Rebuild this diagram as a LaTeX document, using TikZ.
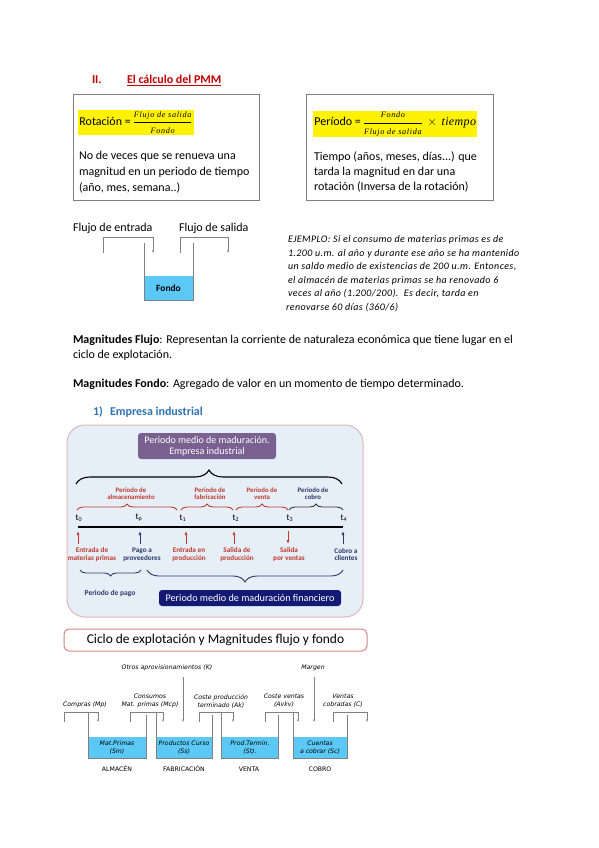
\documentclass[tikz,border=0pt]{standalone}
\usepackage{fontspec}
\setmainfont{Carlito}
\newfontfamily\serifitfam[LetterSpace=8.0]{Liberation Serif}
\newfontfamily\serifbig[LetterSpace=3.0]{Liberation Serif}
\newfontfamily\exfont[LetterSpace=4.0]{Carlito}
\newfontfamily\comicfont{DejaVu Sans}
\usetikzlibrary{decorations.pathreplacing,arrows.meta}
\definecolor{hred}{HTML}{C00000}
\definecolor{hblue}{HTML}{2E74B5}
\definecolor{boxgray}{HTML}{7F7F7F}
\definecolor{linegray}{HTML}{808080}
\definecolor{tankblue}{HTML}{5BC8F5}
\definecolor{panel}{HTML}{E6EEF8}
\definecolor{panelb}{HTML}{E2B6B6}
\definecolor{purp}{HTML}{7B6191}
\definecolor{navy}{HTML}{141A73}
\definecolor{dblue}{HTML}{2B3A67}
\definecolor{rred}{HTML}{C0392B}
\definecolor{titleb}{HTML}{D98585}
\newcommand{\fracfnt}{\fontsize{8.2}{8.5}\selectfont\serifitfam\itshape}
\begin{document}
\begin{tikzpicture}[x=1pt,y=-1pt,
  lbl/.style={inner sep=0pt, outer sep=0pt},
  txt/.style={lbl, font=\fontsize{12}{14}\selectfont},
  box/.style={draw=boxgray, line width=0.8pt, inner sep=0pt, outer sep=0pt},
  hl/.style={fill=yellow, inner sep=1.2pt, font=\fontsize{12}{14}\selectfont},
  body/.style={lbl, align=left},
  flow/.style={draw=linegray, line width=0.6pt},
  flowarr/.style={flow, -{Latex[length=2.5pt,width=2.2pt]}},
  tank/.style={draw=linegray, line width=0.6pt},
  redl/.style={lbl, align=center, text=rred, font=\fontsize{6.8}{7.2}\selectfont\bfseries},
  bluel/.style={lbl, align=center, text=dblue, font=\fontsize{6.8}{7.2}\selectfont\bfseries},
  redb/.style={lbl, align=center, text=rred, font=\fontsize{7.2}{7.6}\selectfont\bfseries},
  blueb/.style={lbl, align=center, text=dblue, font=\fontsize{7.2}{7.6}\selectfont\bfseries},
  tl/.style={lbl, font=\fontsize{9}{10}\selectfont},
  rarr/.style={rred, line width=0.8pt, -{Latex[length=4pt,width=3pt]}},
  barr/.style={dblue, line width=0.8pt, -{Latex[length=4pt,width=3pt]}},
  cic/.style={lbl, align=center, font=\fontsize{6.2}{8}\selectfont\comicfont\itshape},
  cicu/.style={lbl, align=center, font=\fontsize{6.2}{8}\selectfont\comicfont},
]
\fill[white] (0,0) rectangle (599,848);
\useasboundingbox (0,0) rectangle (599,848);

% Header
\node[txt, anchor=base west, font=\fontsize{12}{14}\selectfont\bfseries, text=hred] (secnum) at (92,84) {II.};
\node[txt, anchor=base west, font=\fontsize{12}{14}\selectfont\bfseries, text=hred] (sectitle) at (127,84) {\underline{El cálculo del PMM}};

% Box 1
\node[box, anchor=north west, minimum width=186pt, minimum height=106pt] (box1) at (73,94) {};
\node[hl, anchor=west] (rot) at (78,122.5) {Rotación =\,$\displaystyle\frac{\hbox{\fracfnt Flujo de salida}}{\hbox{\fracfnt Fondo}}$};
\node[body, anchor=north west, font=\fontsize{12}{16}\selectfont] (rottxt) at (79,151) {No de veces que se renueva una\\magnitud en un periodo de tiempo\\(año, mes, semana..)};

% Box 2
\node[box, anchor=north west, minimum width=187pt, minimum height=106pt] (box2) at (306,94) {};
\node[hl, anchor=west] (per) at (313,124) {Período =\,$\displaystyle\frac{\hbox{\fracfnt Fondo}}{\hbox{\fracfnt Flujo de salida}}$\, \raisebox{0.5pt}{$\times$}\, {\serifbig\itshape\fontsize{12}{14}\selectfont tiempo}};
\node[body, anchor=north west, font=\fontsize{12}{15}\selectfont] (pertxt) at (314,152) {Tiempo (años, meses, días...) que\\tarda la magnitud en dar una\\rotación (Inversa de la rotación)};

% Fondo diagram
\node[txt, anchor=base west] (fin) at (73,231) {Flujo de entrada};
\node[txt, anchor=base west] (fout) at (179,231) {Flujo de salida};
\coordinate (fa1) at (103,253);
\coordinate (fa2) at (153,253);
\coordinate (fb1) at (180,253);
\coordinate (fb2) at (228,253);
\draw[flowarr] (fa1) -- (103,237) -- (153,237) -- (fa2);
\draw[flowarr] (fb1) -- (180,237) -- (228,237) -- (fb2);
\fill[tankblue] (144,276) rectangle (193,300);
\draw[tank] (144,243) -- (144,300) -- (193,300) -- (193,243);
\node[lbl, font=\fontsize{9.5}{10}\selectfont\bfseries] (fondo) at (168.5,288) {Fondo};

% Example
\node[body, anchor=north west, font=\fontsize{10}{13.5}\selectfont\exfont\itshape] (ej) at (288,236) {EJEMPLO: Si el consumo de materias primas es de\\1.200 u.m. al año y durante ese año se ha mantenido\\un saldo medio de existencias de 200 u.m. Entonces,\\el almacén de materias primas se ha renovado 6\\veces al año (1.200/200).\ \ Es decir, tarda en\\\hspace*{-2pt}renovarse 60 días (360/6)};

% Magnitudes
\node[txt, anchor=base west] (mf1) at (73,343) {\textbf{Magnitudes Flujo}: Representan la corriente de naturaleza económica que tiene lugar en el};
\node[txt, anchor=base west] (mf2) at (73,358) {ciclo de explotación.};
\node[txt, anchor=base west] (mfo) at (73,387) {\textbf{Magnitudes Fondo}: Agregado de valor en un momento de tiempo determinado.};
\node[txt, anchor=base west, text=hblue, font=\fontsize{12}{14}\selectfont\bfseries] (e1n) at (93,415) {1)};
\node[txt, anchor=base west, text=hblue, font=\fontsize{12}{14}\selectfont\bfseries] (e1) at (110,415) {Empresa industrial};

% Industrial panel
\draw[fill=panel, draw=panelb, line width=1pt, rounded corners=18pt] (67,425) rectangle (363,617);
\node[fill=purp, rounded corners=3pt, minimum width=138pt, minimum height=26pt, inner sep=0pt, text=white, align=center, font=\fontsize{10}{11}\selectfont] (pmm) at (207,446) {Periodo medio de maduración.\\Empresa industrial};
\draw[decorate, decoration={brace, amplitude=14pt}, line width=1.1pt] (76,484) -- (342,484);

\node[redl] (palm) at (131,493.5) {Periodo de\\almacenamiento};
\node[redl] (pfab) at (210,493.5) {Periodo de\\fabricación};
\node[redl] (pven) at (262,493.5) {Periodo de\\venta};
\node[bluel] (pcob) at (313,493.5) {Periodo de\\cobro};
\draw[decorate, decoration={brace, amplitude=6pt}, rred, line width=0.9pt] (77,510) -- (177,510);
\draw[decorate, decoration={brace, amplitude=6pt}, rred, line width=0.9pt] (181,510) -- (233,510);
\draw[decorate, decoration={brace, amplitude=6pt}, rred, line width=0.9pt] (236,510) -- (288,510);
\draw[decorate, decoration={brace, amplitude=6pt}, black!80, line width=0.9pt] (289,510) -- (343,510);

\node[tl] (t0) at (79,518) {t\textsubscript{0}};
\node[tl] (tp) at (139,518) {t\textsubscript{p}};
\node[tl] (t1) at (183,518) {t\textsubscript{1}};
\node[tl] (t2) at (236,518) {t\textsubscript{2}};
\node[tl] (t3) at (290,518) {t\textsubscript{3}};
\node[tl] (t4) at (344,518) {t\textsubscript{4}};
\draw[line width=2pt] (78,527) -- (343,527);

\draw[rarr] (78,544) -- (78,531);
\draw[barr] (140,544) -- (140,531);
\draw[rarr] (186,544) -- (186,531);
\draw[rarr] (234,544) -- (234,531);
\draw[rarr] (288,531) -- (288,544);
\draw[barr] (343,544) -- (343,531);

\node[redb] (l0) at (92,554.5) {Entrada de\\materias primas};
\node[blueb] (lp) at (142,554.5) {Pago a\\proveedores};
\node[redb] (l1) at (189,554.5) {Entrada en\\producción};
\node[redb] (l2) at (237,554.5) {Salida de\\producción};
\node[redb] (l3) at (289,554.5) {Salida\\por ventas};
\node[blueb] (l4) at (346,554.5) {Cobro a\\clientes};

\draw[decorate, decoration={brace, amplitude=6pt}, dblue, line width=0.9pt] (141,570) -- (80,570);
\draw[decorate, decoration={brace, amplitude=12pt}, dblue, line width=0.9pt] (343,570) -- (147,570);
\node[blueb, font=\fontsize{7.5}{8}\selectfont\bfseries] (ppago) at (110,593) {Periodo de pago};
\node[fill=navy, rounded corners=3pt, minimum width=182pt, minimum height=16pt, inner sep=0pt, text=white, font=\fontsize{10.2}{11}\selectfont] (pmmf) at (250,598) {Periodo medio de maduración financiero};

% Ciclo diagram
\node[draw=titleb, line width=1pt, fill=white, rounded corners=5pt, minimum width=303pt, minimum height=22pt, inner sep=0pt, font=\fontsize{13.4}{15}\selectfont] (ciclo) at (215.5,640) {Ciclo de explotación y Magnitudes flujo y fondo};

\node[cic] (otros) at (167,668) {Otros aprovisionamientos (K)};
\node[cic] (margen) at (313,668) {Margen};
\node[cic] (consumos) at (150,701) {Consumos\\Mat. primas (Mcp)};
\node[cic] (costep) at (221,701) {Coste producción\\terminado (Ak)};
\node[cic] (costev) at (284,701) {Coste ventas\\(Avkv)};
\node[cic] (ventas) at (343,701) {Ventas\\cobradas (C)};
\node[cic] (compras) at (85,705) {Compras (Mp)};

% tanks
\fill[tankblue] (88,737) rectangle (146,758);
\fill[tankblue] (156,737) rectangle (212,758);
\fill[tankblue] (221,737) rectangle (278,758);
\fill[tankblue] (293,737) rectangle (347,758);
\draw[tank] (88,713) -- (88,758) -- (146,758) -- (146,715);
\draw[tank] (156,713) -- (156,758) -- (212,758) -- (212,715);
\draw[tank] (221,713) -- (221,758) -- (278,758) -- (278,715);
\draw[tank] (293,713) -- (293,758) -- (347,758) -- (347,715);
\node[cic] (s1) at (117,748) {Mat.Primas\\(Sm)};
\node[cic] (s2) at (184,748) {Productos Curso\\(Ss)};
\node[cic] (s3) at (250,748) {Prod.Termin.\\(St).};
\node[cic] (s4) at (320,748) {Cuentas\\a cobrar (Sc)};
\node[cicu] (n1) at (117,769) {ALMACÉN};
\node[cicu] (n2) at (184,769) {FABRICACIÓN};
\node[cicu] (n3) at (249,769) {VENTA};
\node[cicu] (n4) at (320,769) {COBRO};

% flows
\draw[flowarr] (64,722) -- (64,712) -- (98,712) -- (98,722);
\draw[flowarr] (130,722) -- (130,712) -- (163,712) -- (163,722);
\draw[flowarr] (183,677) -- (183,722);
\draw[flowarr] (199,722) -- (199,712) -- (233,712) -- (233,722);
\draw[flowarr] (265,722) -- (265,712) -- (298,712) -- (298,722);
\draw[flowarr] (314,677) -- (314,722);
\draw[flowarr] (333,722) -- (333,712) -- (367,712) -- (367,722);
\end{tikzpicture}
\end{document}
